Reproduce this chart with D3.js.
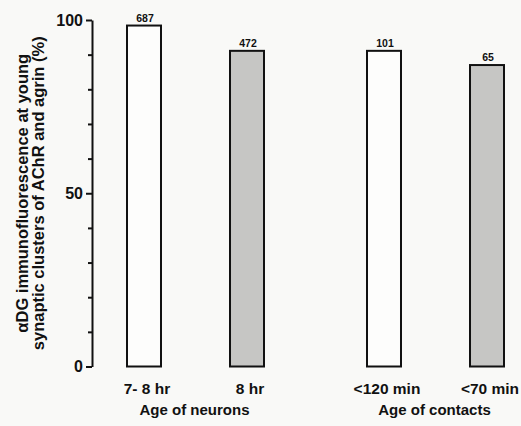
<!DOCTYPE html>
<html>
<head>
<meta charset="utf-8">
<script src="https://cdn.jsdelivr.net/npm/d3@7"></script>
<style>
  body { margin: 0; background: #f9f9f7; }
  text { font-family: "Liberation Sans", Arial, sans-serif; font-weight: bold; fill: #111; }
</style>
</head>
<body>
<div id="chart"></div>
<script>
// values
const groups = ["Age of neurons", "Age of contacts"];
const categories = ["7- 8 hr", "8 hr", "<120 min", "<70 min"];
const categoryGroup = ["Age of neurons", "Age of neurons", "Age of contacts", "Age of contacts"];
const condition = ["early", "late", "early", "late"];
const values = [98.4, 91.1, 91.1, 87.0];
const counts = ["687", "472", "101", "65"];
const yTicks = [0, 10, 20, 30, 40, 50, 60, 70, 80, 90, 100];
const yTickLabels = [0, 50, 100];

const width = 521, height = 426;

const svg = d3.select("#chart")
  .append("svg")
  .attr("width", width)
  .attr("height", height);

svg.append("rect")
  .attr("width", width)
  .attr("height", height)
  .attr("fill", "#f9f9f7");

// y scale: 0 -> 366.5, 100 -> 20
const yScale = d3.scaleLinear()
  .domain([0, 100])
  .range([366.5, 20]);

// group centres, then bar offsets inside each group
const groupScale = d3.scalePoint()
  .domain(groups)
  .range([195.5, 435.5]);

const innerScale = d3.scaleBand()
  .domain(["early", "late"])
  .range([-68.5, 68.5])
  .paddingInner(0.67)
  .paddingOuter(0);

const fill = d3.scaleOrdinal()
  .domain(["early", "late"])
  .range(["#fdfdfc", "#c6c6c4"]);

const data = categories.map((c, i) => ({
  category: c,
  group: categoryGroup[i],
  condition: condition[i],
  value: values[i],
  n: counts[i]
}));

const barX = d => groupScale(d.group) + innerScale(d.condition);

///////////////////////////////
// y axis
const yAxis = d3.axisLeft(yScale)
  .tickValues(yTicks)
  .tickSizeOuter(0)
  .tickFormat(d => yTickLabels.includes(d) ? d : "");

const axisG = svg.append("g")
  .attr("transform", "translate(92,0)")
  .call(yAxis);

axisG.select(".domain")
  .attr("stroke", "#111")
  .attr("stroke-width", 2);

axisG.selectAll(".tick line")
  .attr("stroke", "#111")
  .attr("stroke-width", 2)
  .attr("x2", d => yTickLabels.includes(d) ? -6 : -4);

axisG.selectAll(".tick text")
  .attr("x", -9)
  .attr("font-size", 16)
  .attr("font-family", "'Liberation Sans', Arial, sans-serif")
  .attr("font-weight", "bold")
  .attr("fill", "#111");

///////////////////////////////
// bars
svg.selectAll(".bar")
  .data(data)
  .join("rect")
  .attr("class", "bar")
  .attr("x", barX)
  .attr("y", d => yScale(d.value))
  .attr("width", innerScale.bandwidth())
  .attr("height", d => yScale(0) - yScale(d.value))
  .attr("fill", d => fill(d.condition))
  .attr("stroke", "#111")
  .attr("stroke-width", 2);

// n above each bar
svg.selectAll(".count")
  .data(data)
  .join("text")
  .attr("class", "count")
  .attr("x", d => barX(d) + innerScale.bandwidth() / 2 + 1)
  .attr("y", d => yScale(d.value) - 4)
  .attr("text-anchor", "middle")
  .attr("font-size", 10.5)
  .text(d => d.n);

// category labels
svg.selectAll(".cat")
  .data(data)
  .join("text")
  .attr("class", "cat")
  .attr("x", d => barX(d) + innerScale.bandwidth() / 2 + 3)
  .attr("y", 393.5)
  .attr("text-anchor", "middle")
  .attr("font-size", 15.5)
  .text(d => d.category);

// group labels
svg.selectAll(".grp")
  .data(groups)
  .join("text")
  .attr("class", "grp")
  .attr("x", d => groupScale(d) - 1)
  .attr("y", 415)
  .attr("text-anchor", "middle")
  .attr("font-size", 15)
  .text(d => d);

// y axis title, two lines
const title = svg.append("text")
  .attr("transform", `translate(0, ${yScale(50)}) rotate(-90)`)
  .attr("text-anchor", "middle")
  .attr("font-size", 16.5);

title.append("tspan")
  .attr("x", 0)
  .attr("y", 28)
  .text("αDG immunofluorescence at young");

title.append("tspan")
  .attr("x", 0)
  .attr("y", 44)
  .text("synaptic clusters of AChR and agrin (%)");
</script>
</body>
</html>
